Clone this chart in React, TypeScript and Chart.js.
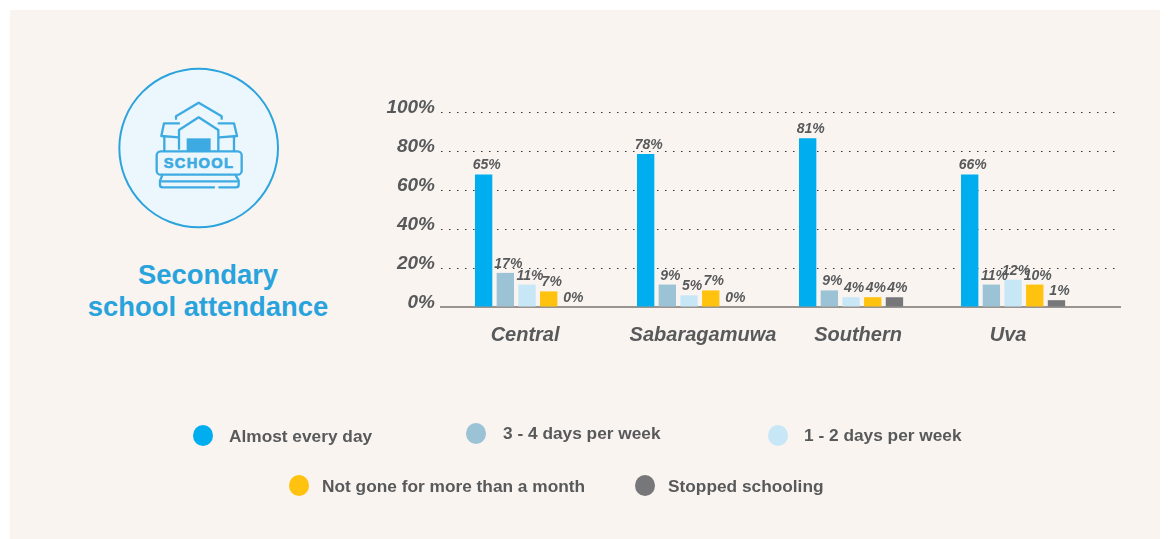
import React, { useEffect, useRef } from "react";
import { Chart, registerables } from "chart.js";

Chart.register(...registerables);

const categories = ["Central", "Sabaragamuwa", "Southern", "Uva"];
const seriesNames = ["Almost every day", "3 - 4 days per week", "1 - 2 days per week", "Not gone for more than a month", "Stopped schooling"];
const colors = ["#00aeef", "#9bc2d5", "#c7e7f7", "#ffc20e", "#77777a"];

// bar heights as drawn in the picture
const almostEveryDay = [68, 78.5, 86.5, 68];
const threeFourDays = [17.5, 11.5, 8.5, 11.5];
const oneTwoDays = [11.5, 6, 5, 14];
const notGoneMonth = [8, 8.5, 5, 11.5];
const stoppedSchooling = [0, 0, 5, 3.5];

// printed labels
const almostEveryDayLabels = [65, 78, 81, 66];
const threeFourDaysLabels = [17, 9, 9, 11];
const oneTwoDaysLabels = [11, 5, 4, 12];
const notGoneMonthLabels = [7, 7, 4, 10];
const stoppedSchoolingLabels = [0, 0, 4, 1];

const yTicks = [0, 20, 40, 60, 80, 100];

const seriesValues = [almostEveryDay, threeFourDays, oneTwoDays, notGoneMonth, stoppedSchooling];
const seriesLabels = [almostEveryDayLabels, threeFourDaysLabels, oneTwoDaysLabels, notGoneMonthLabels, stoppedSchoolingLabels];

const textGrey = "#58595b";
const labelFont = "italic bold 14px 'Liberation Sans'";

const valueLabels = {
  id: "valueLabels",
  afterDatasetsDraw(chart: any) {
    const { ctx } = chart;
    ctx.save();
    ctx.font = labelFont;
    ctx.fillStyle = textGrey;
    ctx.textAlign = "center";
    ctx.textBaseline = "alphabetic";
    seriesLabels.forEach((labels, s) => {
      chart.getDatasetMeta(s).data.forEach((bar: any, i: number) => {
        ctx.fillText(labels[i] + "%", bar.x + 3, bar.y - 5);
      });
    });
    ctx.restore();
  },
};

const legendItems = [
  { left: 193, top: 425, textLeft: 229, textTop: 426 },
  { left: 466, top: 423, textLeft: 503, textTop: 423 },
  { left: 768, top: 425, textLeft: 804, textTop: 425 },
  { left: 289, top: 475, textLeft: 322, textTop: 476 },
  { left: 635, top: 475, textLeft: 668, textTop: 476 },
];

function SchoolIcon() {
  const s = { fill: "none", stroke: "#3dabe2", strokeWidth: 7, strokeLinecap: "round", strokeLinejoin: "round" } as const;
  return (
    <svg width={200} height={190} viewBox="0 0 600 570" style={{ position: "absolute", left: 100, top: 50 }}>
      <circle cx={296} cy={294} r={238} fill="#ecf7fd" stroke="#2ba3dd" strokeWidth={6} />
      <polyline points="228,206 228,199 296,158 365,199 365,206" {...s} />
      <polyline points="237,296 237,240 296,202 355,240 355,300" {...s} />
      <polyline points="237,220 192,220 184,258 236,262" {...s} />
      <polyline points="356,220 402,220 411,258 358,262" {...s} />
      <polyline points="193,262 193,302" {...s} />
      <polyline points="402,262 402,302" {...s} />
      <rect x={260} y={265} width={72} height={40} fill="#3dabe2" />
      <rect x={170} y={304} width={255} height={70} rx={12} fill="#ecf7fd" stroke="#3dabe2" strokeWidth={7} />
      <text x={297} y={354} textAnchor="middle" fontFamily="'Liberation Sans'" fontWeight={700} fontSize={44} letterSpacing={4} fill="#3dabe2" stroke="#3dabe2" strokeWidth={2}>SCHOOL</text>
      <path d="M186,378 L180,392 L180,405 Q180,412 188,412 L342,412 M358,412 L408,412 Q416,412 416,405 L416,392 L408,378" {...s} />
      <line x1={186} y1={394} x2={410} y2={394} {...s} />
    </svg>
  );
}

export default function App() {
  const canvasRef = useRef<HTMLCanvasElement>(null);

  useEffect(() => {
    document.body.style.margin = "0";
    document.body.style.background = "#ffffff";
    const chart = new Chart(canvasRef.current as HTMLCanvasElement, {
      type: "bar",
      data: {
        datasets: seriesNames.map((name, s) => ({
          label: name,
          backgroundColor: colors[s],
          data: seriesValues[s].map((y, i) => ({ x: i, y })),
          categoryPercentage: 0.723,
          barPercentage: 0.8,
        })),
      },
      options: {
        animation: false,
        responsive: false,
        layout: { padding: { left: 375, top: 112, right: 50, bottom: 182 } },
        plugins: { legend: { display: false }, tooltip: { enabled: false } },
        scales: {
          x: {
            type: "linear",
            offset: false,
            min: -0.531,
            max: 3.66,
            grid: { display: false, drawTicks: false },
            border: { color: "#99948f", width: 2 },
            afterBuildTicks(scale: any) {
              scale.ticks = [-0.012, 1.086, 2.043, 2.969].map((value) => ({ value }));
            },
            afterFit(scale: any) {
              scale.paddingLeft = 0;
              scale.paddingRight = 0;
              scale.height = 50;
            },
            ticks: {
              autoSkip: false,
              maxRotation: 0,
              padding: 16,
              color: textGrey,
              font: { family: "'Liberation Sans'", size: 20, weight: "bold", style: "italic" },
              callback: (_v: any, i: number) => categories[i],
            },
          },
          y: {
            min: 0,
            max: 100,
            grid: { color: "#333333", lineWidth: 1, drawTicks: false },
            border: { display: false, dash: [1.5, 6.5] },
            afterBuildTicks(scale: any) {
              scale.ticks = yTicks.map((value) => ({ value }));
            },
            afterFit(scale: any) {
              scale.paddingTop = 0;
              scale.paddingBottom = 0;
              scale.width = 66;
            },
            ticks: {
              padding: 6,
              color: textGrey,
              font: { family: "'Liberation Sans'", size: 19, weight: "bold", style: "italic", lineHeight: "9px" },
              callback: (v: any) => [v + "%", ""],
            },
          },
        },
      },
      plugins: [valueLabels],
    } as any);
    return () => chart.destroy();
  }, []);

  return (
    <div style={{ position: "relative", width: 1170, height: 539, overflow: "hidden", background: "#ffffff" }}>
      <div style={{ position: "absolute", left: 10, top: 10, width: 1150, height: 530, background: "#f9f4f0" }} />
      <SchoolIcon />
      <div style={{ position: "absolute", left: 58, width: 300, top: 259, textAlign: "center", color: "#29a3dc", fontFamily: "'Liberation Sans'", fontWeight: 700, fontSize: 27.4, lineHeight: "32px" }}>
        Secondary<br />school attendance
      </div>
      <canvas ref={canvasRef} width={1170} height={539} style={{ position: "absolute", left: 0, top: 0 }} />
      {legendItems.map((it, i) => (
        <React.Fragment key={i}>
          <div style={{ position: "absolute", left: it.left, top: it.top, width: 20, height: 21, borderRadius: "50%", background: colors[i] }} />
          <div style={{ position: "absolute", left: it.textLeft, top: it.textTop, whiteSpace: "nowrap", color: textGrey, fontFamily: "'Liberation Sans'", fontWeight: 700, fontSize: 17.3, lineHeight: "20px" }}>
            {seriesNames[i]}
          </div>
        </React.Fragment>
      ))}
    </div>
  );
}
